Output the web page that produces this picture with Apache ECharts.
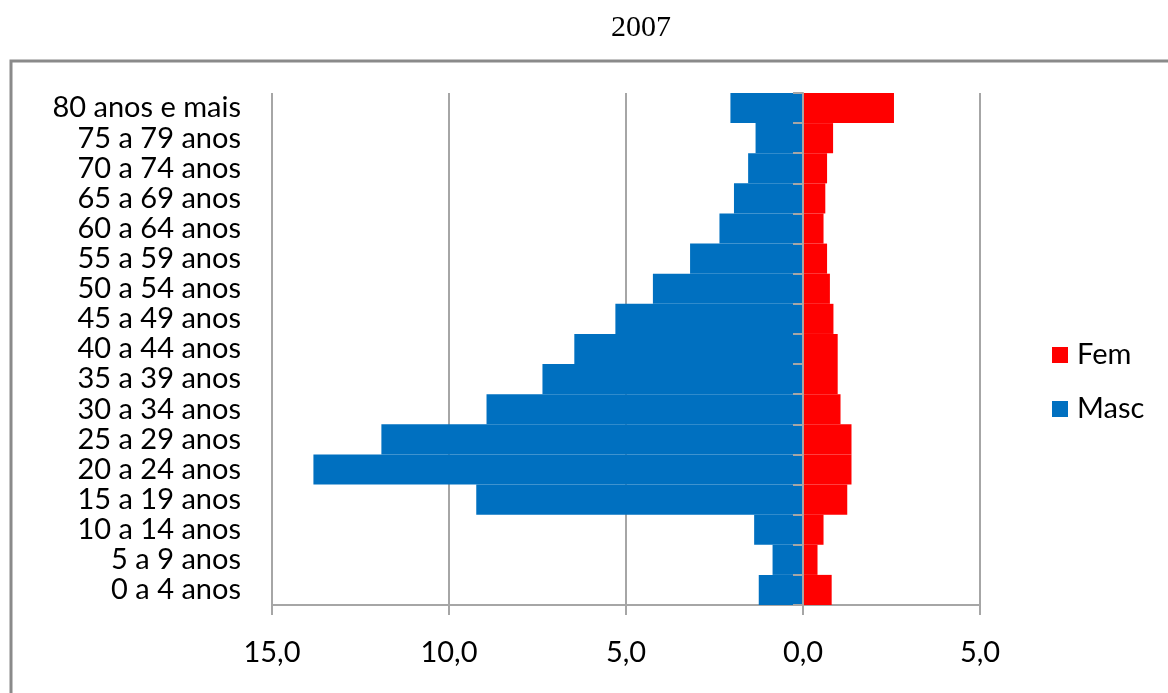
<!DOCTYPE html>
<html>
<head>
<meta charset="utf-8">
<script src="https://cdn.jsdelivr.net/npm/echarts@6/dist/echarts.min.js"></script>
<style>
html,body{margin:0;padding:0;background:#fff;}
#c{width:1168px;height:693px;}
</style>
</head>
<body>
<div id="c"></div>
<script>
const categories = ['0 a 4 anos','5 a 9 anos','10 a 14 anos','15 a 19 anos','20 a 24 anos','25 a 29 anos','30 a 34 anos','35 a 39 anos','40 a 44 anos','45 a 49 anos','50 a 54 anos','55 a 59 anos','60 a 64 anos','65 a 69 anos','70 a 74 anos','75 a 79 anos','80 anos e mais'];
const masc = [1.25, 0.86, 1.38, 9.23, 13.83, 11.91, 8.94, 7.36, 6.46, 5.30, 4.24, 3.19, 2.36, 1.95, 1.55, 1.34, 2.05];
const fem = [0.81, 0.41, 0.58, 1.25, 1.37, 1.37, 1.06, 0.98, 0.98, 0.86, 0.76, 0.68, 0.58, 0.63, 0.68, 0.85, 2.57];
const xTicks = { min: -15, max: 5, interval: 5 };

const FONT = 'Lato';
const FS = 29;
const chart = echarts.init(document.getElementById('c'), null, {renderer: 'canvas'});
chart.setOption({
  animation: false,
  backgroundColor: '#fff',
  grid: { left: 272, right: 188, top: 93, bottom: 88, containLabel: false },
  graphic: [
    { type: 'rect', shape: { x: 11, y: 61, width: 1200, height: 700 }, style: { fill: 'none', stroke: '#8a8a8a', lineWidth: 3 }, z: -1 },
    { type: 'text', x: 641, y: 28, style: { text: '2007', font: '30px "Liberation Serif"', fill: '#000', textAlign: 'center', textVerticalAlign: 'middle' } }
  ],
  legend: {
    orient: 'vertical', left: 1052, top: 340, padding: 0, itemWidth: 16, itemHeight: 16, itemGap: 24,
    icon: 'rect', data: ['Fem', 'Masc'],
    textStyle: { fontFamily: FONT, fontSize: FS, lineHeight: 30, color: '#000', padding: [0,0,0,4] }
  },
  xAxis: {
    type: 'value', min: xTicks.min, max: xTicks.max, interval: xTicks.interval,
    axisLine: { show: true, onZero: false, lineStyle: { color: '#a6a6a6', width: 2 } },
    axisTick: { show: true, length: 10, lineStyle: { color: '#a6a6a6', width: 2 } },
    splitLine: { show: true, lineStyle: { color: '#a6a6a6', width: 2 } },
    axisLabel: { margin: 33, fontFamily: FONT, fontSize: FS, color: '#000',
      formatter: v => Math.abs(v).toFixed(1).replace('.', ',') }
  },
  yAxis: [
    { type: 'category', data: categories, position: 'left',
      axisLine: { show: false, onZero: false }, axisTick: { show: false },
      axisLabel: { interval: 0, margin: 31, fontFamily: FONT, fontSize: FS, color: '#000' } },
    { type: 'category', data: categories, position: 'left', z: 10,
      axisLine: { show: true, onZero: true, lineStyle: { color: '#a6a6a6', width: 2 } },
      axisTick: { show: true, interval: 0, length: 10, lineStyle: { color: '#a6a6a6', width: 2 } },
      axisLabel: { show: false } }
  ],
  series: [
    { name: 'Masc', type: 'bar', stack: 'pop', yAxisIndex: 0, barCategoryGap: 0,
      itemStyle: { color: '#0070C0' }, data: masc.map(v => -v) },
    { name: 'Fem', type: 'bar', stack: 'pop', yAxisIndex: 0, barCategoryGap: 0,
      itemStyle: { color: '#FF0000' }, data: fem }
  ]
});
</script>
</body>
</html>
